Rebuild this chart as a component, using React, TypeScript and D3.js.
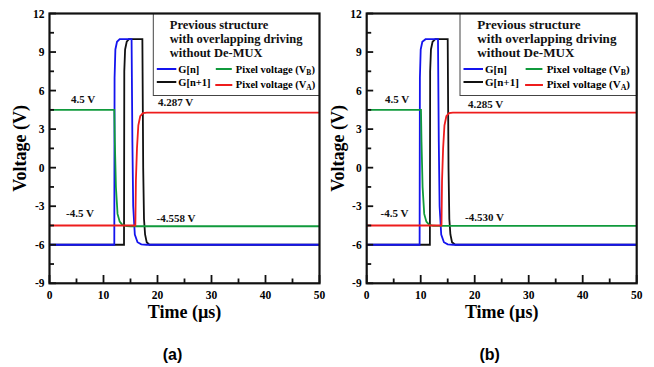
import React from 'react';
import * as d3 from 'd3';

// time (µs) / voltage (V) points
const gnA = [[0, -6], [12, -6], [12.05, 7], [12.2, 9.2], [12.5, 9.8], [13, 10], [15.2, 10], [15.35, 2], [15.5, -3], [15.8, -5.2], [16.3, -5.8], [17, -5.97], [18, -6], [50, -6]];
const gn1A = [[0, -6], [13.8, -6], [13.85, 7.5], [14, 9.2], [14.3, 9.8], [14.7, 10], [17.2, 10], [17.35, 0], [17.5, -4], [17.7, -5.2], [18, -5.8], [18.5, -6], [50, -6]];
const vbA = [[0, 4.5], [12, 4.5], [12.1, 2], [12.3, -1.5], [12.6, -3.6], [13, -4.2], [13.5, -4.45], [14.3, -4.55], [15, -4.558], [50, -4.558]];
const vaA = [[0, -4.5], [15.9, -4.5], [16, -1], [16.2, 1.5], [16.45, 3.3], [16.8, 4.0], [17.3, 4.25], [18, 4.287], [50, 4.287]];

const gnB = [[0, -6], [9.8, -6], [9.85, 7], [10, 9.2], [10.3, 9.8], [10.9, 10], [13.2, 10], [13.35, 2], [13.5, -3], [13.8, -5.2], [14.3, -5.8], [15, -5.97], [16, -6], [50, -6]];
const gn1B = [[0, -6], [11.7, -6], [11.75, 7.5], [11.9, 9.2], [12.2, 9.8], [12.7, 10], [15.0, 10], [15.15, 0], [15.3, -4], [15.5, -5.2], [15.8, -5.8], [16.4, -6], [50, -6]];
const vbB = [[0, 4.5], [10.05, 4.5], [10.15, 2], [10.35, -1.5], [10.65, -3.6], [11.05, -4.2], [11.55, -4.43], [12.3, -4.52], [13, -4.53], [50, -4.53]];
const vaB = [[0, -4.5], [13.85, -4.5], [13.95, -1], [14.15, 1.5], [14.4, 3.3], [14.75, 4.0], [15.25, 4.25], [15.95, 4.285], [50, 4.285]];

const tTicks = [0, 10, 20, 30, 40, 50];
const tMinor = [5, 15, 25, 35, 45];
const vTicks = [-9, -6, -3, 0, 3, 6, 9, 12];
const vMinor = [-7.5, -4.5, -1.5, 1.5, 4.5, 7.5, 10.5];

const titleLines = ['Previous structure', 'with overlapping driving', 'without De-MUX'];
const labelsA = ['4.5 V', '4.287 V', '-4.5 V', '-4.558 V'];
const labelsB = ['4.5 V', '4.285 V', '-4.5 V', '-4.530 V'];

const BLUE = '#1414ee';
const BLACK = '#111';
const GREEN = '#109a3c';
const RED = '#ee1c1c';
const SERIF = '"Liberation Serif", "Times New Roman", serif';

const Panel = ({ left, gn, gn1, vb, va, labels, tag, lx, fs, notes }) => {
  const x = d3.scaleLinear().domain([0, 50]).range([left, left + 270]);
  const y = d3.scaleLinear().domain([-9, 12]).range([283.3, 13.5]);
  const line = d3.line().x(d => x(d[0])).y(d => y(d[1]));
  const r = left + 270;
  const ly = 13.5;
  return (
    <g>
      <path d={line(gn1)} fill="none" stroke={BLACK} strokeWidth={1.8} />
      <path d={line(gn)} fill="none" stroke={BLUE} strokeWidth={1.8} />
      <path d={line(vb)} fill="none" stroke={GREEN} strokeWidth={1.8} />
      <path d={line(va)} fill="none" stroke={RED} strokeWidth={1.8} />

      {/* legend box */}
      <rect x={lx} y={ly} width={r - lx} height={82} fill="white" stroke="#444" strokeWidth={1} />
      {titleLines.map((t, i) => (
        <text key={t} x={lx + 16.5 * fs} y={29 + i * 14} fontFamily={SERIF} fontWeight="bold" fontSize={12.5 * fs} fill="#111">{t}</text>
      ))}
      <line x1={lx + 3.5} x2={lx + 23} y1={69} y2={69} stroke={BLUE} strokeWidth={2} />
      <text x={lx + 25} y={72.5} fontFamily={SERIF} fontWeight="bold" fontSize={10.5 * fs}>G[n]</text>
      <line x1={lx + 3.5} x2={lx + 23} y1={82} y2={82} stroke={BLACK} strokeWidth={2} />
      <text x={lx + 25} y={85.5} fontFamily={SERIF} fontWeight="bold" fontSize={10.5 * fs}>G[n+1]</text>
      <line x1={lx + 62.5 * fs} x2={lx + 78.5 * fs} y1={69} y2={69} stroke={GREEN} strokeWidth={2} />
      <text x={lx + 82.5 * fs} y={72.5} fontFamily={SERIF} fontWeight="bold" fontSize={10.5 * fs}>
        Pixel voltage (V<tspan fontSize={7.5 * fs} dy={2}>B</tspan><tspan dy={-2}>)</tspan>
      </text>
      <line x1={lx + 62 * fs} x2={lx + 79 * fs} y1={85} y2={85} stroke={RED} strokeWidth={2} />
      <text x={lx + 82.5 * fs} y={88} fontFamily={SERIF} fontWeight="bold" fontSize={10.5 * fs}>
        Pixel voltage (V<tspan fontSize={7.5 * fs} dy={2}>A</tspan><tspan dy={-2}>)</tspan>
      </text>

      {/* value notes */}
      {labels.map((t, i) => (
        <text key={i} x={notes[i][0]} y={notes[i][1]} fontFamily={SERIF} fontWeight="bold" fontSize={11} fill="#111">{t}</text>
      ))}

      {/* ticks */}
      {tTicks.map(t => (
        <g key={'t' + t}>
          <line x1={x(t)} x2={x(t)} y1={283.3} y2={275} stroke="#111" strokeWidth={1.8} />
          <text x={x(t)} y={299} textAnchor="middle" fontFamily={SERIF} fontWeight="bold" fontSize={11.5}>{t}</text>
        </g>
      ))}
      {tMinor.map(t => (
        <line key={'tm' + t} x1={x(t)} x2={x(t)} y1={283.3} y2={278.5} stroke="#111" strokeWidth={1.8} />
      ))}
      {vTicks.map(v => (
        <g key={'v' + v}>
          <line x1={left} x2={left + 6.5} y1={y(v)} y2={y(v)} stroke="#111" strokeWidth={1.8} />
          <text x={left - 5} y={y(v)} dy="0.35em" textAnchor="end" fontFamily={SERIF} fontWeight="bold" fontSize={11.5}>{v}</text>
        </g>
      ))}
      {vMinor.map(v => (
        <line key={'vm' + v} x1={left} x2={left + 4.5} y1={y(v)} y2={y(v)} stroke="#111" strokeWidth={1.8} />
      ))}
      <rect x={left} y={13.5} width={270} height={269.8} fill="none" stroke="#111" strokeWidth={2.2} />

      <text transform={`translate(${left - 29.5},148.4) rotate(-90)`} textAnchor="middle" dy="0.35em" fontFamily={SERIF} fontWeight="bold" fontSize={18}>Voltage (V)</text>
      <text x={left + 135} y={318} textAnchor="middle" fontFamily={SERIF} fontWeight="bold" fontSize={18}>Time (µs)</text>
      <text x={left + 123} y={360} textAnchor="middle" fontFamily='"Liberation Sans", Arial, sans-serif' fontWeight="bold" fontSize={16}>{tag}</text>
    </g>
  );
};

export default function App() {
  return (
    <svg width={654} height={367} style={{ position: 'absolute', left: 0, top: 0, background: 'white' }}>
      <rect width={654} height={367} fill="white" />
      <Panel left={49.5} gn={gnA} gn1={gn1A} vb={vbA} va={vaA} labels={labelsA} tag="(a)" lx={153.3} fs={1}
        notes={[[71, 103], [158, 106], [66, 217], [156.5, 221.5]]} />
      <Panel left={366.7} gn={gnB} gn1={gn1B} vb={vbB} va={vaB} labels={labelsB} tag="(b)" lx={460} fs={1.05}
        notes={[[385, 103], [468, 108], [380.5, 217], [465, 220.5]]} />
    </svg>
  );
}
